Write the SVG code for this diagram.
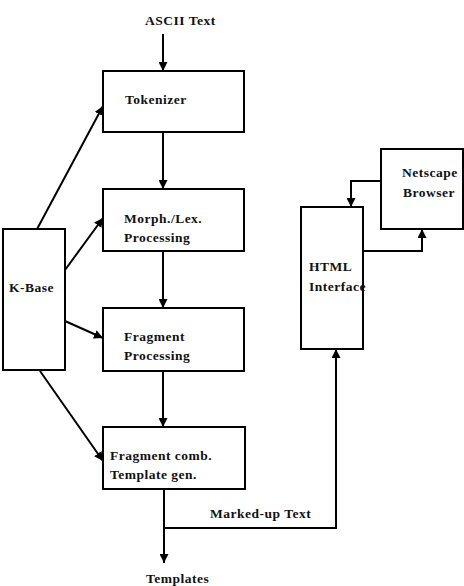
<svg xmlns="http://www.w3.org/2000/svg" width="464" height="586" viewBox="0 0 464 586">
<style>
.box{fill:#fff;stroke:#000;stroke-width:2}
.ln{fill:none;stroke:#000;stroke-width:2}
text{font-family:"Liberation Serif","DejaVu Serif",serif;font-size:13.5px;font-weight:bold;letter-spacing:0.5px;fill:#111}
</style>
<defs>
<marker id="ah" viewBox="0 0 10 10" refX="10" refY="5" markerWidth="9" markerHeight="9" markerUnits="userSpaceOnUse" orient="auto">
<path d="M0,0 L10,5 L0,10 z" fill="#000"/>
</marker>
</defs>
<rect width="464" height="586" fill="#fff"/>
<g id="connectors">
<line class="ln" x1="163" y1="34" x2="163" y2="71" marker-end="url(#ah)"/>
<line class="ln" x1="163" y1="132" x2="163" y2="189" marker-end="url(#ah)"/>
<line class="ln" x1="163" y1="251" x2="163" y2="308" marker-end="url(#ah)"/>
<line class="ln" x1="163" y1="371" x2="163" y2="427" marker-end="url(#ah)"/>
<line class="ln" x1="164" y1="489" x2="164" y2="563" marker-end="url(#ah)"/>
<polyline class="ln" points="164,528 336,528 336,349" marker-end="url(#ah)"/>
<line class="ln" x1="36" y1="231" x2="103" y2="106" marker-end="url(#ah)"/>
<line class="ln" x1="65" y1="270" x2="103" y2="218" marker-end="url(#ah)"/>
<line class="ln" x1="65" y1="321" x2="103" y2="338" marker-end="url(#ah)"/>
<line class="ln" x1="40" y1="371" x2="103" y2="461" marker-end="url(#ah)"/>
<polyline class="ln" points="381,181 351,181 351,207" marker-end="url(#ah)"/>
<polyline class="ln" points="363,251 422,251 422,229" marker-end="url(#ah)"/>
</g>
<g id="ascii"><text x="145" y="25">ASCII Text</text></g>
<g id="tokenizer"><rect class="box" x="103" y="71" width="141" height="61"/><text x="125" y="104">Tokenizer</text></g>
<g id="morph"><rect class="box" x="103" y="189" width="141" height="62"/><text x="124" y="223">Morph./Lex.</text><text x="124" y="242">Processing</text></g>
<g id="fragment"><rect class="box" x="103" y="308" width="141" height="63"/><text x="124" y="341">Fragment</text><text x="124" y="360">Processing</text></g>
<g id="fragcomb"><rect class="box" x="103" y="427" width="142" height="62"/><text x="110" y="460">Fragment comb.</text><text x="110" y="479">Template gen.</text></g>
<g id="kbase"><rect class="box" x="3" y="229" width="62" height="141"/><text x="9" y="292">K-Base</text></g>
<g id="html"><rect class="box" x="301" y="207" width="62" height="142"/><text x="309" y="271">HTML</text><text x="309" y="291">Interface</text></g>
<g id="netscape"><rect class="box" x="381" y="149" width="82" height="80"/><text x="402" y="177">Netscape</text><text x="403" y="197">Browser</text></g>
<g id="markedup"><text x="210" y="518">Marked-up Text</text></g>
<g id="templates"><text x="146" y="583">Templates</text></g>
</svg>
